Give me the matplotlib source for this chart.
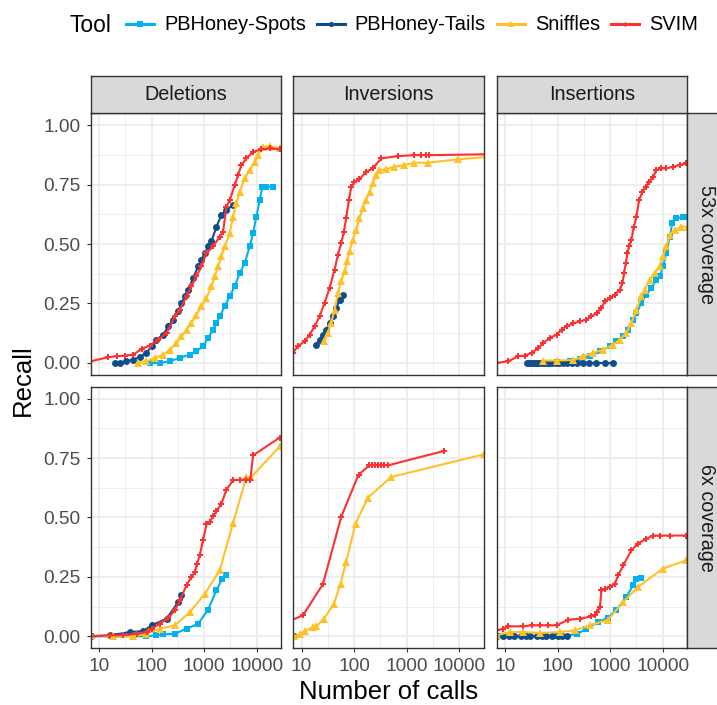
import matplotlib.pyplot as plt
from matplotlib.lines import Line2D

plt.rcParams['font.family'] = ['Liberation Sans', 'DejaVu Sans']

# ---- categories / styles ----
tools = ['PBHoney-Spots', 'PBHoney-Tails', 'Sniffles', 'SVIM']
tool_colors = ['#00B2EE', '#104E8B', '#FFC125', '#FF3030']
tool_markers = ['s', 'o', '^', 'P']
tool_msize = [5.0, 5.0, 5.6, 4.4]

sv_types = ['Deletions', 'Inversions', 'Insertions']
coverages = ['53x coverage', '6x coverage']

x_ticks = [10, 100, 1000, 10000]
x_tick_labels = ['10', '100', '1000', '10000']
x_minor = [31.6, 316, 3162]
y_ticks = [0.0, 0.25, 0.5, 0.75, 1.0]
y_tick_labels = ['0.00', '0.25', '0.50', '0.75', '1.00']
y_minor = [0.125, 0.375, 0.625, 0.875]

# ---- data: 53x coverage, Deletions ----
del53_spots_calls = [93, 144, 223, 345, 534, 714, 957, 1191, 1482, 1715, 1982, 2468, 3071, 3819,
                     4757, 5918, 7362, 8518, 9860, 11400, 12820, 15280, 20430]
del53_spots_recall = [0.0, 0.0, 0.007, 0.021, 0.035, 0.049, 0.070, 0.105, 0.140, 0.168, 0.196, 0.238,
                      0.280, 0.322, 0.378, 0.420, 0.490, 0.545, 0.615, 0.685, 0.741, 0.741, 0.741]
del53_tails_calls = [20, 25, 33, 45, 60, 80, 100, 124, 167, 207, 258, 321, 371, 430, 497, 618, 769,
                     889, 1030, 1191, 1378, 1715, 2134, 2655, 3555]
del53_tails_recall = [0.0, 0.0, 0.007, 0.014, 0.025, 0.042, 0.070, 0.098, 0.119, 0.154, 0.182, 0.217,
                      0.252, 0.280, 0.308, 0.357, 0.406, 0.434, 0.462, 0.490, 0.511, 0.573, 0.622,
                      0.643, 0.664]
del53_sniffles_calls = [56, 80, 116, 167, 223, 298, 371, 462, 574, 714, 889, 1106, 1378, 1595, 1845,
                        2134, 2468, 3071, 3555, 4113, 4757, 5918, 7362, 9159, 10590, 13180, 17660, 27350]
del53_sniffles_recall = [0.0, 0.007, 0.021, 0.035, 0.056, 0.084, 0.112, 0.140, 0.168, 0.203, 0.238,
                         0.273, 0.322, 0.364, 0.406, 0.448, 0.490, 0.545, 0.615, 0.671, 0.720, 0.776,
                         0.811, 0.846, 0.874, 0.909, 0.912, 0.902]
del53_svim_calls = [7, 15, 22, 31, 45, 65, 93, 134, 193, 277, 345, 462, 574, 714, 889, 1106, 1482,
                    1982, 2295, 2655, 3071, 3819, 4422, 5117, 6366, 8518, 12270, 17660, 27350]
del53_svim_recall = [0.007, 0.024, 0.028, 0.031, 0.035, 0.059, 0.073, 0.098, 0.126, 0.196, 0.224,
                     0.280, 0.322, 0.364, 0.406, 0.462, 0.490, 0.531, 0.552, 0.657, 0.685, 0.748,
                     0.790, 0.832, 0.860, 0.888, 0.898, 0.902, 0.898]

# ---- 53x coverage, Inversions ----
inv53_tails_calls = [19, 22, 25.4, 29.4, 34, 39.4, 45.5, 52.7, 61]
inv53_tails_recall = [0.077, 0.098, 0.119, 0.140, 0.168, 0.196, 0.231, 0.266, 0.287]
inv53_sniffles_calls = [26.5, 31.6, 36.6, 42.4, 49, 56.6, 65.5, 73.6, 81.5, 94.3, 109, 126, 146, 169,
                        196, 226, 262, 303, 405, 583, 903, 1400, 2506, 9300, 40000]
inv53_sniffles_recall = [0.091, 0.126, 0.168, 0.224, 0.294, 0.343, 0.385, 0.427, 0.469, 0.517, 0.559,
                         0.608, 0.650, 0.685, 0.720, 0.755, 0.790, 0.811, 0.815, 0.825, 0.832, 0.842,
                         0.842, 0.856, 0.868]
inv53_svim_calls = [6.8, 8.5, 11.4, 14.2, 17.7, 22, 27.4, 34, 42.4, 49, 56.6, 63.6, 70.5, 79.2, 87.8,
                    101, 126, 169, 226, 326, 675, 1400, 1872, 2328, 2692, 40000]
inv53_svim_recall = [0.042, 0.070, 0.091, 0.119, 0.154, 0.196, 0.252, 0.315, 0.392, 0.455, 0.503,
                     0.552, 0.608, 0.685, 0.738, 0.762, 0.772, 0.804, 0.818, 0.860, 0.870, 0.874,
                     0.874, 0.874, 0.874, 0.878]

# ---- 53x coverage, Insertions ----
ins53_spots_calls = [53.5, 95.7, 171, 265, 411, 637, 986, 1319, 1766, 2198, 2736, 3162, 3936, 4900,
                     6100, 7590, 8770, 10140, 11740, 13580, 15270, 18160, 24300, 30270]
ins53_spots_recall = [0.0, 0.003, 0.007, 0.017, 0.028, 0.049, 0.070, 0.091, 0.112, 0.140, 0.182, 0.210,
                      0.252, 0.287, 0.315, 0.350, 0.364, 0.406, 0.462, 0.531, 0.587, 0.608, 0.615, 0.615]
ins53_tails_calls = [26, 28, 31, 34, 37, 41, 45, 50, 56, 62, 70, 80, 92, 106, 125, 150, 185, 230, 300,
                     400, 550, 790, 1140]
ins53_tails_recall = [0.0, 0.0, 0.0, 0.0, 0.0, 0.0, 0.0, 0.0, 0.0, 0.0, 0.0, 0.0, 0.0, 0.0, 0.0, 0.0,
                      0.0, 0.0, 0.0, 0.0, 0.0, 0.0, 0.0]
ins53_sniffles_calls = [53.5, 95.7, 198, 307, 475, 736, 1140, 1528, 2043, 2543, 3162, 3936, 4550, 5660,
                        7050, 8770, 10140, 11740, 13580, 16900, 22600, 30270]
ins53_sniffles_recall = [0.010, 0.010, 0.012, 0.028, 0.042, 0.056, 0.077, 0.098, 0.126, 0.168, 0.224,
                         0.280, 0.308, 0.350, 0.378, 0.406, 0.448, 0.490, 0.538, 0.559, 0.573, 0.573]
ins53_svim_calls = [6.95, 11.6, 17.9, 24, 32.1, 43, 53.5, 71.5, 95.7, 119, 148, 198, 265, 355, 442, 551,
                    685, 792, 986, 1227, 1528, 1715, 1845, 1983, 2133, 2294, 2543, 2814, 3162, 3555,
                    4113, 4755, 5505, 6550, 7580, 9440, 11750, 15710, 21030, 28110]
ins53_svim_recall = [0.0, 0.007, 0.028, 0.031, 0.042, 0.063, 0.084, 0.105, 0.119, 0.140, 0.154, 0.166,
                     0.175, 0.182, 0.196, 0.210, 0.231, 0.259, 0.273, 0.287, 0.308, 0.336, 0.378, 0.420,
                     0.462, 0.490, 0.517, 0.573, 0.615, 0.685, 0.720, 0.741, 0.762, 0.783, 0.811, 0.818,
                     0.818, 0.825, 0.832, 0.839]

# ---- 6x coverage, Deletions ----
del6_spots_calls = [7.05, 18.7, 80, 124, 167, 277, 462, 769, 1191, 1715, 2229, 2655]
del6_spots_recall = [0.0, 0.0, 0.0, 0.004, 0.008, 0.011, 0.032, 0.053, 0.112, 0.194, 0.243, 0.257]
del6_tails_calls = [7.05, 16.2, 38.8, 69.5, 100, 193, 321, 371]
del6_tails_recall = [0.0, 0.004, 0.018, 0.022, 0.046, 0.074, 0.144, 0.172]
del6_sniffles_calls = [7.05, 18.7, 44.9, 80, 144, 277, 535, 1030, 1983, 3555, 6366, 7925, 27350]
del6_sniffles_recall = [0.004, 0.0, 0.0, 0.011, 0.032, 0.046, 0.102, 0.179, 0.278, 0.477, 0.670, 0.670,
                        0.799]
del6_svim_calls = [7.05, 16.2, 29, 51.9, 80.3, 100, 144, 207, 277, 345, 462, 574, 665, 736, 828, 957,
                   1107, 1281, 1482, 1715, 2133, 2655, 3555, 4757, 6366, 7580, 8518, 27350]
del6_svim_recall = [0.0, 0.004, 0.004, 0.011, 0.018, 0.032, 0.053, 0.077, 0.109, 0.151, 0.215, 0.250,
                    0.271, 0.306, 0.342, 0.405, 0.471, 0.482, 0.505, 0.526, 0.558, 0.617, 0.656, 0.659,
                    0.659, 0.659, 0.761, 0.836]

# ---- 6x coverage, Inversions ----
inv6_tails_calls = [6.9, 7.2]
inv6_tails_recall = [0.0, 0.0]
inv6_sniffles_calls = [7.15, 9.17, 11.4, 16.4, 19, 26.5, 41.1, 55, 70.5, 106, 182, 505, 29870]
inv6_sniffles_recall = [0.0, 0.008, 0.022, 0.039, 0.042, 0.074, 0.135, 0.222, 0.313, 0.474, 0.583,
                        0.670, 0.766]
inv6_svim_calls = [6.0, 10.6, 25.4, 56.6, 121, 195, 220, 250, 280, 320, 370, 436, 5190]
inv6_svim_recall = [0.065, 0.088, 0.219, 0.502, 0.680, 0.719, 0.719, 0.719, 0.719, 0.719, 0.719, 0.719,
                    0.780]

# ---- 6x coverage, Insertions ----
ins6_spots_calls = [8.0, 22.3, 95.7, 230, 355, 592, 916, 1319, 2043, 2736, 3162, 3936]
ins6_spots_recall = [0.0, 0.0, 0.0, 0.008, 0.032, 0.060, 0.079, 0.112, 0.166, 0.215, 0.243, 0.247]
ins6_tails_calls = [7, 9, 12, 15, 20, 25, 30, 40, 50, 60, 80, 100, 120, 148]
ins6_tails_recall = [0.0, 0.0, 0.0, 0.0, 0.0, 0.0, 0.0, 0.0, 0.0, 0.0, 0.0, 0.0, 0.0, 0.0]
ins6_sniffles_calls = [6.95, 12.4, 22.3, 46.2, 111, 213, 411, 916, 1766, 3400, 10140, 28100]
ins6_sniffles_recall = [0.004, 0.018, 0.018, 0.014, 0.018, 0.025, 0.046, 0.070, 0.144, 0.208, 0.285,
                        0.320]
ins6_svim_calls = [6.95, 9.3, 11.6, 22.3, 32.1, 46.2, 66.5, 95.7, 160, 265, 442, 512, 566, 637, 685,
                   792, 986, 1227, 1420, 1766, 2543, 3400, 4900, 6550, 8770, 13580, 28100]
ins6_svim_recall = [0.025, 0.032, 0.042, 0.042, 0.046, 0.046, 0.046, 0.046, 0.070, 0.074, 0.084, 0.088,
                    0.102, 0.123, 0.193, 0.200, 0.207, 0.221, 0.256, 0.298, 0.362, 0.390, 0.410, 0.424,
                    0.424, 0.424, 0.424]

series = {
    ('53x coverage', 'Deletions'): [(0, del53_spots_calls, del53_spots_recall),
                                    (1, del53_tails_calls, del53_tails_recall),
                                    (2, del53_sniffles_calls, del53_sniffles_recall),
                                    (3, del53_svim_calls, del53_svim_recall)],
    ('53x coverage', 'Inversions'): [(1, inv53_tails_calls, inv53_tails_recall),
                                     (2, inv53_sniffles_calls, inv53_sniffles_recall),
                                     (3, inv53_svim_calls, inv53_svim_recall)],
    ('53x coverage', 'Insertions'): [(0, ins53_spots_calls, ins53_spots_recall),
                                     (1, ins53_tails_calls, ins53_tails_recall),
                                     (2, ins53_sniffles_calls, ins53_sniffles_recall),
                                     (3, ins53_svim_calls, ins53_svim_recall)],
    ('6x coverage', 'Deletions'): [(0, del6_spots_calls, del6_spots_recall),
                                   (1, del6_tails_calls, del6_tails_recall),
                                   (2, del6_sniffles_calls, del6_sniffles_recall),
                                   (3, del6_svim_calls, del6_svim_recall)],
    ('6x coverage', 'Inversions'): [(1, inv6_tails_calls, inv6_tails_recall),
                                    (2, inv6_sniffles_calls, inv6_sniffles_recall),
                                    (3, inv6_svim_calls, inv6_svim_recall)],
    ('6x coverage', 'Insertions'): [(0, ins6_spots_calls, ins6_spots_recall),
                                    (1, ins6_tails_calls, ins6_tails_recall),
                                    (2, ins6_sniffles_calls, ins6_sniffles_recall),
                                    (3, ins6_svim_calls, ins6_svim_recall)],
}

# ---- layout (pixel positions) ----
W, H = 717, 705
col_left = [90.7, 293.3, 496.7]
panel_w = 190.6
row_top = [113.3, 386.7]
panel_h = 261.5
strip_top = 75.7
strip_size = 37.6
border = '#333333'
strip_fill = '#D9D9D9'

fig = plt.figure(figsize=(W / 100, H / 100), dpi=100)


def add_px_axes(x, y, w, h):
    return fig.add_axes([x / W, 1 - (y + h) / H, w / W, h / H])


for r, cov in enumerate(coverages):
    for c, sv in enumerate(sv_types):
        ax = add_px_axes(col_left[c], row_top[r], panel_w, panel_h)
        ax.set_xscale('log')
        ax.set_xlim(10 ** 0.842, 10 ** 4.468)
        ax.set_ylim(-0.05, 1.05)
        ax.set_xticks(x_ticks)
        ax.set_xticks(x_minor, minor=True)
        ax.set_yticks(y_ticks)
        ax.set_yticks(y_minor, minor=True)
        ax.set_xticklabels(x_tick_labels)
        ax.set_xticklabels([], minor=True)
        ax.set_yticklabels(y_tick_labels)
        ax.grid(which='major', color='#EBEBEB', lw=1.2)
        ax.grid(which='minor', color='#EBEBEB', lw=0.6)
        ax.set_axisbelow(True)
        ax.tick_params(which='minor', length=0)
        ax.tick_params(which='major', length=2.75, width=0.8, color=border,
                       labelcolor='#4D4D4D', labelsize=13.8, pad=4.5,
                       left=(c == 0), labelleft=(c == 0),
                       bottom=(r == 1), labelbottom=(r == 1))
        for sp in ax.spines.values():
            sp.set_color(border)
            sp.set_linewidth(1.0)

        for ti, xs, ys in series[(cov, sv)]:
            ax.plot(xs, ys, color=tool_colors[ti], lw=1.5, marker=tool_markers[ti],
                    markersize=tool_msize[ti], mew=0)

        # column strip on top row
        if r == 0:
            sax = add_px_axes(col_left[c], strip_top, panel_w, strip_size)
            sax.set_facecolor(strip_fill)
            sax.set_xticks([])
            sax.set_yticks([])
            for sp in sax.spines.values():
                sp.set_color(border)
                sp.set_linewidth(1.0)
            sax.text(0.5, 0.5, sv, transform=sax.transAxes, ha='center', va='center',
                     fontsize=14.2, color='#1A1A1A')

    # row strip on the right
    rax = add_px_axes(col_left[2] + panel_w, row_top[r], strip_size, panel_h)
    rax.set_facecolor(strip_fill)
    rax.set_xticks([])
    rax.set_yticks([])
    for sp in rax.spines.values():
        sp.set_color(border)
        sp.set_linewidth(1.0)
    rax.text(0.5, 0.5, cov, transform=rax.transAxes, ha='center', va='center',
             rotation=-90, fontsize=14.2, color='#1A1A1A')

# axis titles
fig.text((col_left[0] + col_left[2] + panel_w) / 2 / W, 1 - 699 / H, 'Number of calls',
         ha='center', va='baseline', fontsize=18.5)
fig.text(23 / W, 1 - 380 / H, 'Recall', ha='center', va='center', rotation=90, fontsize=18.5)

# legend on top
handles = [Line2D([], [], color=tool_colors[i], marker=tool_markers[i],
                  markersize=tool_msize[i] * 0.75, lw=2.2, mew=0) for i in range(len(tools))]
fig.legend(handles, tools, loc='center left', bbox_to_anchor=(126 / W, 1 - 25 / H), ncol=4,
           frameon=False, fontsize=14.4, handlelength=1.4, handletextpad=0.5,
           columnspacing=0.55, borderpad=0, borderaxespad=0)
fig.text(69 / W, 1 - 32.3 / H, 'Tool', ha='left', va='baseline', fontsize=16.5)

fig.savefig('out.png', dpi=100)
